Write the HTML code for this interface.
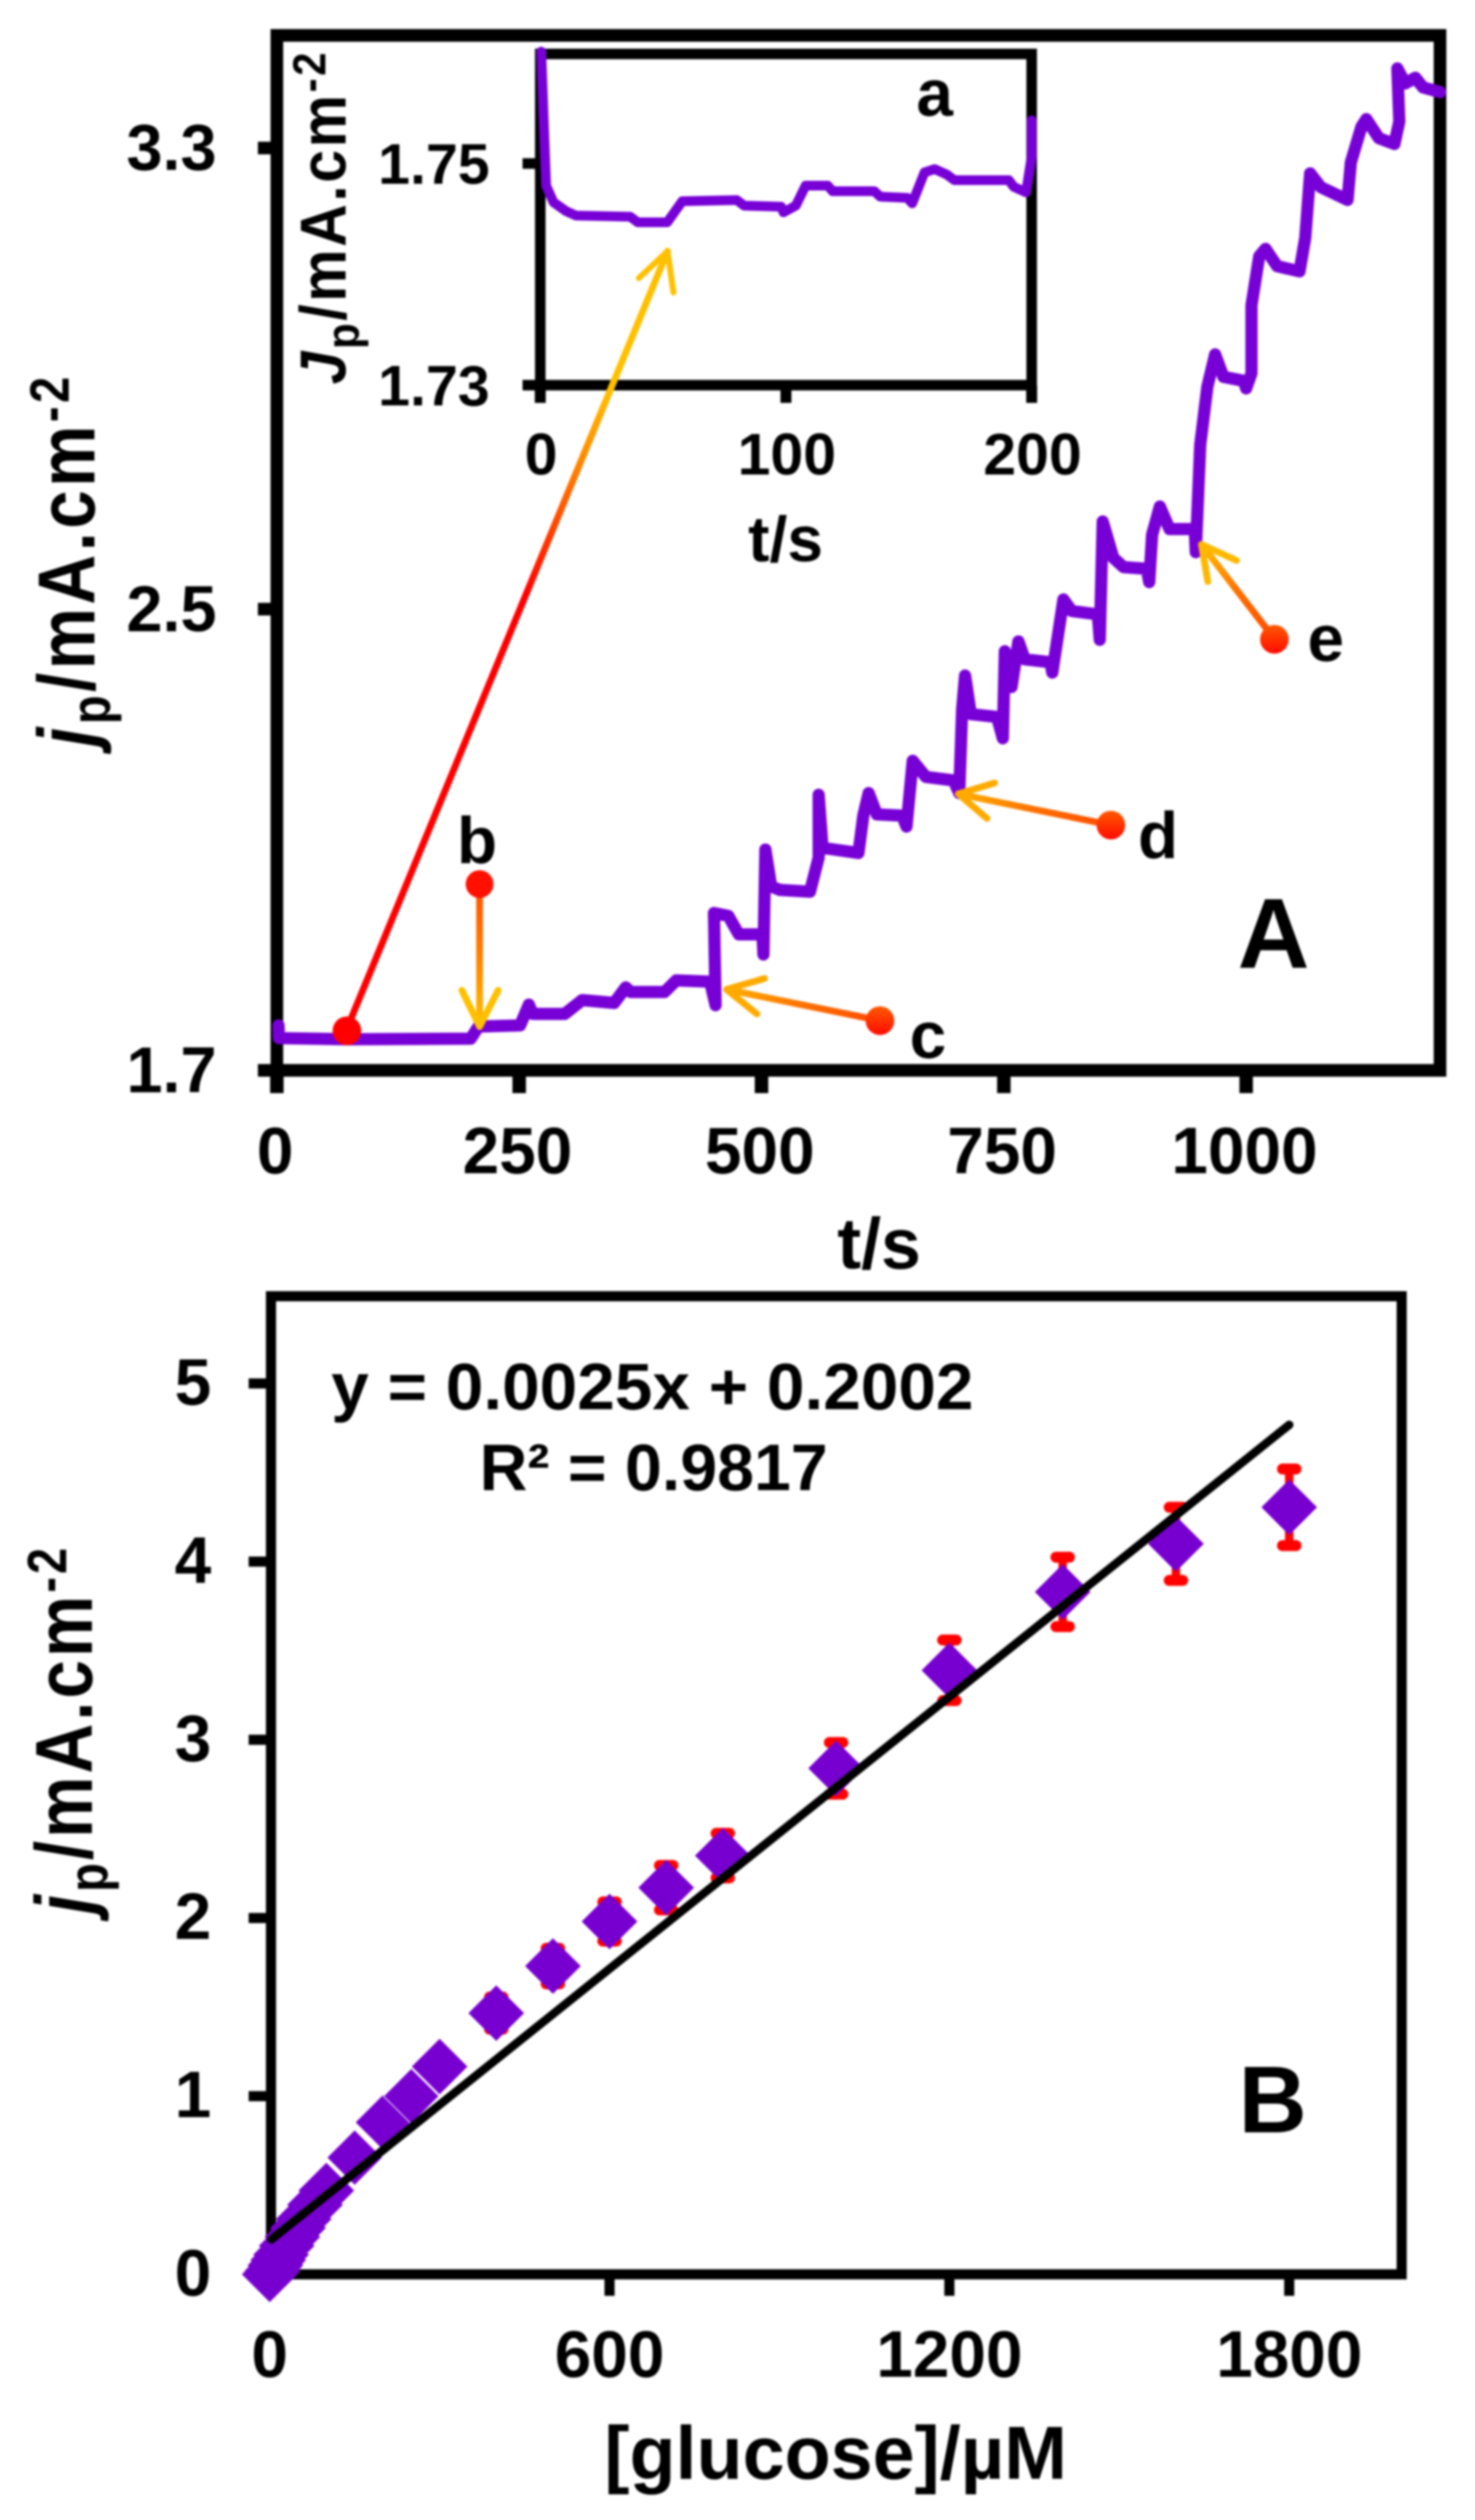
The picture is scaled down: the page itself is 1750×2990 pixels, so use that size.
<!DOCTYPE html>
<html lang="en">
<head>
<meta charset="utf-8">
<title>Glucose amperometric response chart</title>
<style>
html,body{margin:0;padding:0;background:#fff;width:1750px;height:2990px;overflow:hidden}
svg{display:block;filter:blur(1.2px)}
text{font-family:"Liberation Sans",Arial,sans-serif;font-weight:700;fill:#000}
</style>
</head>
<body>
<svg id="fig" xmlns="http://www.w3.org/2000/svg" width="1750" height="2990" viewBox="0 0 1750 2990">
<defs>
<linearGradient id="gradMain" gradientUnits="userSpaceOnUse" x1="411" y1="1222" x2="792" y2="298">
<stop offset="0" stop-color="#ff0000"/><stop offset="0.56" stop-color="#ff0000"/><stop offset="0.72" stop-color="#ff8000"/><stop offset="0.82" stop-color="#ffc000"/><stop offset="1" stop-color="#ffc000"/>
</linearGradient>
<linearGradient id="gradB" gradientUnits="userSpaceOnUse" x1="569" y1="1049" x2="569" y2="1218">
<stop offset="0" stop-color="#ff5000"/><stop offset="0.5" stop-color="#ff8000"/><stop offset="1" stop-color="#ffc000"/>
</linearGradient>
<linearGradient id="gradC" gradientUnits="userSpaceOnUse" x1="1044" y1="1211" x2="862" y2="1174">
<stop offset="0" stop-color="#ff4a00"/><stop offset="0.5" stop-color="#ff7000"/><stop offset="1" stop-color="#ffb000"/>
</linearGradient>
<linearGradient id="gradD" gradientUnits="userSpaceOnUse" x1="1318" y1="979" x2="1137" y2="942">
<stop offset="0" stop-color="#ff4a00"/><stop offset="0.5" stop-color="#ff7000"/><stop offset="1" stop-color="#ffb000"/>
</linearGradient>
<linearGradient id="gradE" gradientUnits="userSpaceOnUse" x1="1512" y1="758" x2="1425" y2="646">
<stop offset="0" stop-color="#ff4a00"/><stop offset="0.5" stop-color="#ff7000"/><stop offset="1" stop-color="#ffc000"/>
</linearGradient>
<linearGradient id="gradDot" x1="0" y1="0" x2="0" y2="1">
<stop offset="0" stop-color="#ff5a00"/><stop offset="1" stop-color="#ff0a00"/>
</linearGradient>
</defs>

<g id="panelA"></g>
<g id="panelInset"></g>

<g>
  <text x="1043" y="1505" font-size="85" text-anchor="middle">t/s</text>
  <text transform="translate(112,886) rotate(-90) scale(1,1.17)" font-size="82" letter-spacing="4"><tspan font-style="italic">j</tspan><tspan font-size="56" dy="16">p</tspan><tspan dy="-16">/mA.cm</tspan><tspan font-size="56" dy="-26">-2</tspan></text>
  <text x="932" y="666" font-size="76" text-anchor="middle">t/s</text>
  <text transform="translate(410,456) rotate(-90) scale(1,1.1)" font-size="70" letter-spacing="3"><tspan font-style="italic">J</tspan><tspan font-size="50" dy="14">p</tspan><tspan dy="-14">/mA.cm</tspan><tspan font-size="50" dy="-22">-2</tspan></text>
  <text x="1109" y="137" font-size="78" text-anchor="middle">a</text>
</g>

<g fill="none" stroke-linecap="round" stroke-linejoin="round">
  <g>
    <line x1="411" y1="1222" x2="792" y2="298" stroke="url(#gradMain)" stroke-width="8"/>
    <polyline points="758,330 792,298 799,347" stroke="#ffc000" stroke-width="7"/>
    <ellipse cx="411.6" cy="1223" rx="17" ry="17" fill="#ff0000"/>
  </g>
  <g>
    <line x1="569" y1="1049" x2="569" y2="1218" stroke="url(#gradB)" stroke-width="8"/>
    <polyline points="548,1175 569,1218 591,1175" stroke="#ffc000" stroke-width="8"/>
    <ellipse cx="569" cy="1049" rx="16.5" ry="16.5" fill="#ff1000"/>
  </g>
  <g>
    <line x1="1044" y1="1211" x2="862" y2="1174" stroke="url(#gradC)" stroke-width="8"/>
    <polyline points="907,1161 862,1174 898,1203" stroke="#ffaa00" stroke-width="8"/>
    <ellipse cx="1044" cy="1211" rx="17" ry="17" fill="url(#gradDot)"/>
  </g>
  <g>
    <line x1="1318" y1="979" x2="1137" y2="942" stroke="url(#gradD)" stroke-width="8"/>
    <polyline points="1180,929 1137,942 1171,971" stroke="#ffaa00" stroke-width="8"/>
    <ellipse cx="1318" cy="979" rx="17" ry="17" fill="url(#gradDot)"/>
  </g>
  <g>
    <line x1="1512" y1="758" x2="1425.5" y2="646" stroke="url(#gradE)" stroke-width="8"/>
    <polyline points="1467,665 1425.5,646 1433,690" stroke="#ffb800" stroke-width="8"/>
    <ellipse cx="1512" cy="758.5" rx="17" ry="17" fill="url(#gradDot)"/>
  </g>
  <text x="566" y="1024" font-size="78" text-anchor="middle" stroke="none">b</text>
  <text x="1101" y="1255" font-size="78" text-anchor="middle" stroke="none">c</text>
  <text x="1374" y="1018" font-size="78" text-anchor="middle" stroke="none">d</text>
  <text x="1573" y="784" font-size="78" text-anchor="middle" stroke="none">e</text>
  <text x="1511" y="1148" font-size="118" text-anchor="middle" stroke="none">A</text>
</g>

<g id="panelB"></g>

<g>
  <text x="393" y="1672" font-size="78" textLength="762" lengthAdjust="spacingAndGlyphs">y = 0.0025x + 0.2002</text>
  <text x="569" y="1768" font-size="78" textLength="413" lengthAdjust="spacingAndGlyphs">R² = 0.9817</text>
  <text x="1510" y="2530" font-size="112" text-anchor="middle">B</text>
  <text x="717" y="2941" font-size="89" textLength="549" lengthAdjust="spacingAndGlyphs">[glucose]/µM</text>
  <text transform="translate(109,2271) rotate(-90) scale(1,1.17)" font-size="82" letter-spacing="3.5"><tspan font-style="italic">j</tspan><tspan font-size="56" dy="16">p</tspan><tspan dy="-16">/mA.cm</tspan><tspan font-size="56" dy="-26">-2</tspan></text>
</g>
</svg>

<script>
// ---------- Panel A: main amperometric trace ----------
const traceTime = [1.7,2,72,200,208,251,260,264,297,315,348,360,365,400,412,447,452.6,451,465.7,476.5,501,502,504,510,519,550,559,559,563,600,605,610.5,619,645,649.6,656,669.6,698,704,707,710,716,743,749,751,758,765,771.6,798,800,811.5,820,847,849,852,863,873.5,897.5,900,903,911,921,947,948,952.6,960,968,976.5,997.6,1000,1005.5,1005.5,1013.5,1020,1032,1055,1061,1066,1077,1104.6,1108,1119,1124,1137,1153,1158,1156,1164,1174.5,1182.6,1200];
const traceCurrent = [1.778,1.756,1.754,1.755,1.776,1.778,1.814,1.798,1.798,1.822,1.817,1.844,1.836,1.836,1.856,1.854,1.813,1.973,1.968,1.936,1.936,1.901,2.083,2.019,2.013,2.010,2.069,2.178,2.086,2.077,2.142,2.181,2.144,2.142,2.123,2.237,2.209,2.203,2.181,2.326,2.385,2.318,2.313,2.276,2.427,2.365,2.444,2.413,2.408,2.390,2.517,2.497,2.491,2.447,2.652,2.589,2.573,2.570,2.547,2.629,2.678,2.639,2.639,2.599,2.785,2.886,2.942,2.903,2.896,2.883,2.909,3.027,3.112,3.125,3.095,3.086,3.144,3.256,3.232,3.210,3.275,3.337,3.350,3.317,3.307,3.346,3.438,3.412,3.422,3.405,3.397];
const mainXTicks = [0,250,500,750,1000];
const mainYTicks = ["1.7","2.5","3.3"];

// ---------- Inset a: first 200 s ----------
const insetTime = [0.4,1.8,2.4,5.4,10.5,14.5,36.6,39.7,51.7,57.8,80,83,98,99,104,108,117,119,136,138.4,149.4,151.4,156.4,160.5,165.5,168.5,190.7,192.7,197.7,200,200];
const insetCurrent = [1.7601,1.7516,1.7480,1.7465,1.7457,1.7453,1.7452,1.7447,1.7447,1.7466,1.7467,1.7462,1.7461,1.7456,1.7462,1.7480,1.7480,1.7475,1.7475,1.7470,1.7469,1.7464,1.7492,1.7495,1.7490,1.7485,1.7485,1.7479,1.7474,1.7506,1.7539];
const insetXTicks = [0,100,200];
const insetYTicks = ["1.73","1.75"];

// ---------- Panel B: calibration ----------
const glucose = [0,5,10,15,20,30,40,50,60,80,100,150,200,250,300,400,500,600,700,800,1000,1200,1400,1600,1800];
const density = [0,0.02,0.05,0.08,0.11,0.16,0.21,0.26,0.31,0.39,0.47,0.655,0.853,1.0,1.166,1.466,1.73,1.98,2.17,2.35,2.84,3.39,3.83,4.10,4.305];
const densityError = [0,0,0,0,0,0,0,0,0,0,0.02,0.03,0.04,0.05,0.06,0.09,0.10,0.11,0.125,0.125,0.145,0.17,0.195,0.205,0.215];
const trendSlope = 0.00254;
const trendIntercept = 0.196;
const trendRange = [0,1800];
const calibXTicks = [0,600,1200,1800];
const calibYTicks = [0,1,2,3,4,5];

// ---------- Axis functions ----------
const xMain = t => 328.5 + 1.15 * t;
const yMain = j => 1270 - (j - 1.7) * 684;
const xInset = t => 641 + 2.915 * t;
const yInset = j => 194 + (1.75 - j) * 13150;
const xCalib = c => 320 + 0.672 * c;
const yCalib = j => 2698.5 - 211.4 * j;

const NS = 'http://www.w3.org/2000/svg';
function mk(parent, tag, props) {
  const el = document.createElementNS(NS, tag);
  for (const k in props) el.setAttribute(k, props[k]);
  parent.appendChild(el);
  return el;
}
function pathFrom(xs, ys, fx, fy) {
  return xs.map((v, i) => (i ? 'L' : 'M') + fx(v).toFixed(1) + ' ' + fy(ys[i]).toFixed(1)).join(' ');
}

// Panel A axes
const gA = document.getElementById('panelA');
const frameA = mk(gA, 'rect', {x: xMain(0), y: 42, width: xMain(1200) - xMain(0), height: yMain(1.7) - 42, fill: 'none', stroke: '#000', 'stroke-width': 15});


mainXTicks.forEach(v => {
  const tick = mk(gA, 'line', {x1: xMain(v), x2: xMain(v), y1: yMain(1.7), y2: 1297, stroke: '#000', 'stroke-width': 16});
  
  
  const lab = mk(gA, 'text', {x: xMain(v) - 2, y: 1392, 'font-size': 78, 'text-anchor': 'middle'});
  lab.textContent = v;
  
  
});
mainYTicks.forEach(v => {
  const y = yMain(parseFloat(v));
  const tick = mk(gA, 'line', {x1: 306, x2: xMain(0), y1: y, y2: y, stroke: '#000', 'stroke-width': 15});
  
  
  const lab = mk(gA, 'text', {x: 257, y: y + 26, 'font-size': 77, 'text-anchor': 'end'});
  lab.textContent = v;
  
  
});
const mainLine = mk(gA, 'path', {d: pathFrom(traceTime, traceCurrent, xMain, yMain), fill: 'none', stroke: '#7700d6', 'stroke-width': 14.5, 'stroke-linejoin': 'round', 'stroke-linecap': 'round'});



// Inset axes
const gI = document.getElementById('panelInset');
const frameI = mk(gI, 'rect', {x: xInset(0), y: 64, width: xInset(200) - xInset(0), height: yInset(1.73) - 64, fill: '#fff', stroke: '#000', 'stroke-width': 12.5});


insetXTicks.forEach(v => {
  const tick = mk(gI, 'line', {x1: xInset(v), x2: xInset(v), y1: yInset(1.73), y2: 478, stroke: '#000', 'stroke-width': 13});
  
  
  const lab = mk(gI, 'text', {x: xInset(v) + 1, y: 563, 'font-size': 70, 'text-anchor': 'middle'});
  lab.textContent = v;
  
  
});
insetYTicks.forEach(v => {
  const y = yInset(parseFloat(v));
  const tick = mk(gI, 'line', {x1: 620, x2: xInset(0), y1: y, y2: y, stroke: '#000', 'stroke-width': 12.5});
  
  
  const lab = mk(gI, 'text', {x: 581, y: y + 24, 'font-size': 68, 'text-anchor': 'end'});
  lab.textContent = v;
  
  
});
const insetLine = mk(gI, 'path', {d: pathFrom(insetTime, insetCurrent, xInset, yInset), fill: 'none', stroke: '#7700d6', 'stroke-width': 11.5, 'stroke-linejoin': 'round', 'stroke-linecap': 'round'});



// Panel B
const gB = document.getElementById('panelB');
const frameB = mk(gB, 'rect', {x: 321.5, y: 1538, width: 1663 - 321.5, height: yCalib(0) - 1538, fill: 'none', stroke: '#000', 'stroke-width': 12});


calibXTicks.forEach(v => {
  const tick = mk(gB, 'line', {x1: xCalib(v), x2: xCalib(v), y1: yCalib(0), y2: 2724, stroke: '#000', 'stroke-width': 12});
  
  
  const lab = mk(gB, 'text', {x: xCalib(v), y: 2820, 'font-size': 78, 'text-anchor': 'middle'});
  lab.textContent = v;
  
  
});
calibYTicks.forEach(v => {
  const y = yCalib(v);
  const tick = mk(gB, 'line', {x1: 295, x2: 321.5, y1: y, y2: y, stroke: '#000', 'stroke-width': 12});
  
  
  const lab = mk(gB, 'text', {x: 229, y: y + 25, 'font-size': 78, 'text-anchor': 'middle'});
  lab.textContent = v;
  
  
});
glucose.forEach((c, i) => {
  const e = densityError[i];
  if (!e) return;
  const px = xCalib(c), top = yCalib(density[i] + e), bot = yCalib(density[i] - e);
  const bar = mk(gB, 'line', {x1: px, x2: px, y1: top, y2: bot, stroke: '#ff0000', 'stroke-width': 10});
  
  
  const caps = mk(gB, 'path', {d: `M${px - 8} ${top}H${px + 8}M${px - 8} ${bot}H${px + 8}`, fill: 'none', stroke: '#ff0000', 'stroke-width': 13, 'stroke-linecap': 'round'});
  
  
});
glucose.forEach((c, i) => {
  const px = xCalib(c), py = yCalib(density[i]), h = 33;
  const d = mk(gB, 'polygon', {points: `${px - h},${py} ${px},${py - h} ${px + h},${py} ${px},${py + h}`, fill: '#7700d0'});
  if (c >= 150 && c <= 250) {
    d.setAttribute('stroke', '#ffffff');
    d.setAttribute('stroke-width', '1');
  }
  
  
});
const trend = mk(gB, 'line', {
  x1: xCalib(trendRange[0]) + 2, y1: yCalib(trendIntercept + trendSlope * trendRange[0]),
  x2: xCalib(trendRange[1]), y2: yCalib(trendIntercept + trendSlope * trendRange[1]),
  stroke: '#000', 'stroke-width': 10, 'stroke-linecap': 'round'
});


</script>
</body>
</html>
